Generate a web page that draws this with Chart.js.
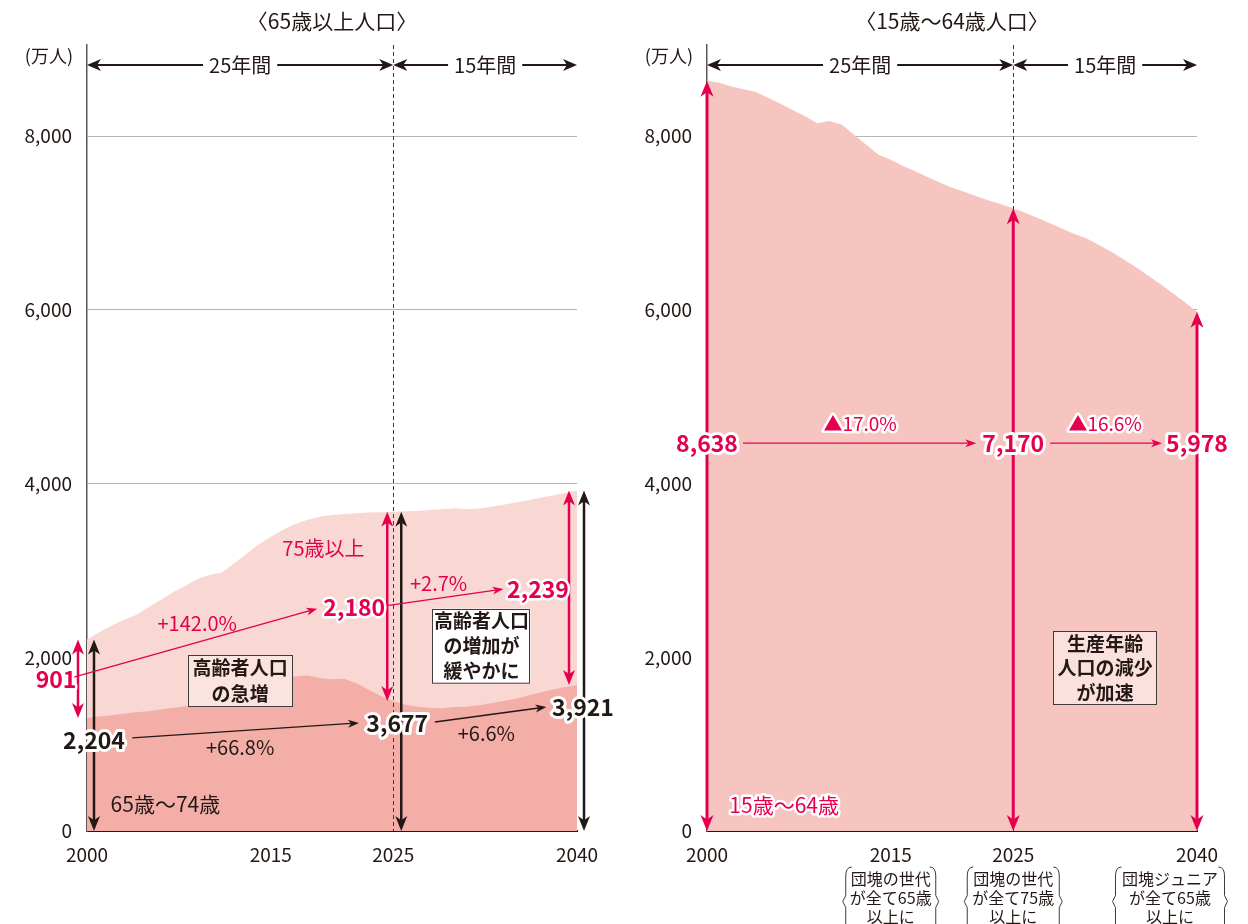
<!DOCTYPE html>
<html lang="ja">
<head>
<meta charset="utf-8">
<title>65歳以上人口と15歳〜64歳人口</title>
<script src="https://cdn.jsdelivr.net/npm/chart.js@4.4.1/dist/chart.umd.min.js"></script>
<style>
  body { margin: 0; background: #fff; }
  #wrap { position: relative; width: 1248px; height: 924px; }
  canvas { position: absolute; top: 0; }
  #left { left: 0; }
  #right { left: 620px; }
</style>
</head>
<body>
<div id="wrap">
  <canvas id="left" width="620" height="924"></canvas>
  <canvas id="right" width="628" height="924"></canvas>
</div>
<script>
// Fonts and colours
const FONT = "'Noto Sans CJK JP', 'Noto Sans', sans-serif";
const INK = "#231815";
const RED = "#e4004f";

// Years on the x axis (one point per year)
const years = [
  2000, 2001, 2002, 2003, 2004, 2005, 2006, 2007, 2008, 2009,
  2010, 2011, 2012, 2013, 2014, 2015, 2016, 2017, 2018, 2019,
  2020, 2021, 2022, 2023, 2024, 2025, 2026, 2027, 2028, 2029,
  2030, 2031, 2032, 2033, 2034, 2035, 2036, 2037, 2038, 2039, 2040
];

// 65歳以上 total (万人)
const age65plus = [
  2204, 2287, 2363, 2431, 2488, 2576, 2660, 2746, 2822, 2901,
  2948, 2975, 3079, 3190, 3300, 3387, 3470, 3535, 3585, 3617,
  3638, 3650, 3659, 3666, 3671, 3677, 3681, 3685, 3695, 3705,
  3716, 3706, 3712, 3733, 3757, 3782, 3808, 3836, 3864, 3893, 3921
];

// 65歳〜74歳 (万人)
const age65to74 = [
  1301, 1318, 1334, 1350, 1366, 1380, 1400, 1420, 1435, 1470,
  1517, 1504, 1560, 1630, 1708, 1755, 1768, 1780, 1790, 1762,
  1747, 1752, 1700, 1625, 1555, 1497, 1455, 1432, 1418, 1412,
  1428, 1432, 1448, 1472, 1497, 1522, 1560, 1595, 1628, 1656, 1682
];

// 15歳〜64歳 (万人)
const age15to64 = [
  8638, 8614, 8571, 8540, 8508, 8442, 8373, 8301, 8230, 8149,
  8174, 8134, 8018, 7901, 7785, 7728, 7656, 7596, 7530, 7466,
  7406, 7359, 7309, 7260, 7215, 7170, 7117, 7057, 6997, 6934,
  6875, 6821, 6746, 6669, 6583, 6494, 6397, 6297, 6194, 6088, 5978
];

// Ticks
const xTickYears = [2000, 2015, 2025, 2040];
const yTickValues = [0, 2000, 4000, 6000, 8000];
const yMax = 9050;

// Labelled values at the key years
const keyYears = [2000, 2025, 2040];
const total65Text = ["2,204", "3,677", "3,921"];
const over75Text = ["901", "2,180", "2,239"];
const workingText = ["8,638", "7,170", "5,978"];
const growth65Text = ["+66.8%", "+6.6%"];
const growth75Text = ["+142.0%", "+2.7%"];
const declineText = ["▲17.0%", "▲16.6%"];

// ---------- drawing helpers ----------
function head(ctx, x, y, ang, len, half, color) {
  ctx.save();
  ctx.translate(x, y);
  ctx.rotate(ang);
  ctx.beginPath();
  ctx.moveTo(0, 0);
  ctx.lineTo(-len, -half);
  ctx.lineTo(-len * 0.72, 0);
  ctx.lineTo(-len, half);
  ctx.closePath();
  ctx.fillStyle = color;
  ctx.fill();
  ctx.restore();
}

function arrow(ctx, x1, y1, x2, y2, o) {
  const ang = Math.atan2(y2 - y1, x2 - x1);
  const cut = o.len * 0.7;
  const c = Math.cos(ang), s = Math.sin(ang);
  ctx.save();
  ctx.strokeStyle = o.color;
  ctx.lineWidth = o.width;
  ctx.beginPath();
  ctx.moveTo(x1 + (o.both ? c * cut : 0), y1 + (o.both ? s * cut : 0));
  ctx.lineTo(x2 - c * cut, y2 - s * cut);
  ctx.stroke();
  ctx.restore();
  head(ctx, x2, y2, ang, o.len, o.half, o.color);
  if (o.both) head(ctx, x1, y1, ang + Math.PI, o.len, o.half, o.color);
}

function label(ctx, str, x, y, font, color, halo, align) {
  ctx.save();
  ctx.font = font;
  ctx.textAlign = align || "center";
  ctx.textBaseline = "middle";
  if (halo) {
    ctx.lineJoin = "round";
    ctx.strokeStyle = "#fff";
    ctx.lineWidth = halo;
    ctx.strokeText(str, x, y);
  }
  ctx.fillStyle = color;
  ctx.fillText(str, x, y);
  ctx.restore();
}

function box(ctx, lines, cx, top, bottom, w, fill) {
  const h = bottom - top;
  ctx.save();
  ctx.fillStyle = fill;
  ctx.fillRect(cx - w / 2, top, w, h);
  ctx.strokeStyle = "#3e3a39";
  ctx.lineWidth = 1;
  ctx.strokeRect(Math.round(cx - w / 2) + 0.5, Math.round(top) + 0.5, w - 1, h - 1);
  ctx.restore();
  const step = h / lines.length;
  lines.forEach((s, i) => label(ctx, s, cx, top + step * (i + 0.5), "bold 19px " + FONT, INK));
}

function brace(ctx, x, top, bottom, dir) {
  const mid = (top + bottom) / 2;
  ctx.save();
  ctx.strokeStyle = "#3e3a39";
  ctx.lineWidth = 1;
  ctx.beginPath();
  ctx.moveTo(x + 6 * dir, top);
  ctx.quadraticCurveTo(x, top, x, top + 9);
  ctx.lineTo(x, mid - 6);
  ctx.lineTo(x - 3 * dir, mid);
  ctx.lineTo(x, mid + 6);
  ctx.lineTo(x, bottom - 9);
  ctx.quadraticCurveTo(x, bottom, x + 6 * dir, bottom);
  ctx.stroke();
  ctx.restore();
}

// Title, unit and the "25年間 / 15年間" span arrows shared by both charts
function frame(chart, title) {
  const ctx = chart.ctx, area = chart.chartArea;
  const X = yr => chart.scales.x.getPixelForValue(yr);
  label(ctx, title, (area.left + area.right) / 2, 21, "21px " + FONT, INK);
  label(ctx, "(万人)", X(2000) - 14, 56, "18px " + FONT, INK, 0, "right");

  // dashed divider at 2025
  ctx.save();
  ctx.strokeStyle = "#3e3a39";
  ctx.lineWidth = 1;
  ctx.setLineDash([4, 3]);
  ctx.beginPath();
  ctx.moveTo(Math.round(X(2025)) + 0.5, area.top);
  ctx.lineTo(Math.round(X(2025)) + 0.5, area.bottom);
  ctx.stroke();
  ctx.restore();

  const y = area.top + 20;
  const spans = [[2000, 2025, "25年間"], [2025, 2040, "15年間"]];
  spans.forEach(([a, b, txt]) => {
    const x1 = X(a), x2 = X(b), mid = (x1 + x2) / 2;
    ctx.font = "20px " + FONT;
    const w = ctx.measureText(txt).width / 2 + 6;
    const o = { color: INK, width: 2, len: 14, half: 6 };
    arrow(ctx, mid - w, y, x1, y, o);
    arrow(ctx, mid + w, y, x2, y, o);
    label(ctx, txt, mid, y, "20px " + FONT, INK);
  });
}

// ---------- annotations for the left chart ----------
const leftNotes = {
  id: "leftNotes",
  afterDraw(chart) {
    const ctx = chart.ctx;
    const X = yr => chart.scales.x.getPixelForValue(yr);
    const Y = v => chart.scales.y.getPixelForValue(v);
    frame(chart, "〈65歳以上人口〉");

    const thick = { width: 2.5, len: 15, half: 6, both: true };
    const blackDx = [7, 8, 7];
    const redDx = [-9, -6, -8];
    keyYears.forEach((yr, k) => {
      const i = years.indexOf(yr);
      arrow(ctx, X(yr) + blackDx[k], Y(0), X(yr) + blackDx[k], Y(age65plus[i]), { ...thick, color: INK });
      arrow(ctx, X(yr) + redDx[k], Y(age65to74[i]), X(yr) + redDx[k], Y(age65plus[i]), { ...thick, color: RED });
    });

    // 75歳以上 trend
    const thinRed = { color: RED, width: 1.3, len: 11, half: 4 };
    arrow(ctx, X(2000) - 14, Y(1770), X(2018.8), Y(2560), thinRed);
    arrow(ctx, X(2024.2), Y(2590), X(2034), Y(2785), thinRed);
    label(ctx, over75Text[0], X(2000) - 31, Y(1745), "bold 23px " + FONT, RED, 5);
    label(ctx, over75Text[1], X(2025) - 39, Y(2575), "bold 23px " + FONT, RED, 5);
    label(ctx, over75Text[2], X(2040) - 39, Y(2780), "bold 23px " + FONT, RED, 5);
    label(ctx, growth75Text[0], X(2009), Y(2390), "20px " + FONT, RED);
    label(ctx, growth75Text[1], X(2028.7), Y(2850), "20px " + FONT, RED);
    label(ctx, "75歳以上", X(2019.3), Y(3250), "20px " + FONT, RED);

    // 65歳以上 total trend
    const thinBlack = { color: INK, width: 1.3, len: 11, half: 4 };
    arrow(ctx, X(2003.7), Y(1073), X(2022.2), Y(1244), thinBlack);
    arrow(ctx, X(2028.4), Y(1255), X(2037.5), Y(1428), thinBlack);
    label(ctx, total65Text[0], X(2000) + 7, Y(1046), "bold 23px " + FONT, INK, 6);
    label(ctx, total65Text[1], X(2025) + 4, Y(1240), "bold 23px " + FONT, INK, 6);
    label(ctx, total65Text[2], X(2040) + 6, Y(1425), "bold 23px " + FONT, INK, 6);
    label(ctx, growth65Text[0], X(2012.5), Y(965), "20px " + FONT, INK);
    label(ctx, growth65Text[1], X(2032.6), Y(1127), "20px " + FONT, INK);
    label(ctx, "65歳〜74歳", X(2006.4), Y(310), "21px " + FONT, INK);

    box(ctx, ["高齢者人口", "の急増"], X(2012.5), Y(2026), Y(1427), 105, "#fbe3e0");
    box(ctx, ["高齢者人口", "の増加が", "緩やかに"], X(2032.2), Y(2560), Y(1700), 98, "#ffffff");
  }
};

// ---------- annotations for the right chart ----------
const rightNotes = {
  id: "rightNotes",
  afterDraw(chart) {
    const ctx = chart.ctx;
    const X = yr => chart.scales.x.getPixelForValue(yr);
    const Y = v => chart.scales.y.getPixelForValue(v);
    frame(chart, "〈15歳〜64歳人口〉");

    keyYears.forEach(yr => {
      const i = years.indexOf(yr);
      arrow(ctx, X(yr), Y(0), X(yr), Y(age15to64[i]), { color: RED, width: 3, len: 16, half: 6.5, both: true });
    });

    const thinRed = { color: RED, width: 1.3, len: 11, half: 4 };
    arrow(ctx, X(2000) + 36, Y(4465), X(2025) - 37, Y(4465), thinRed);
    arrow(ctx, X(2025) + 37, Y(4465), X(2040) - 35, Y(4465), thinRed);
    keyYears.forEach((yr, k) => label(ctx, workingText[k], X(yr), Y(4465), "bold 23px " + FONT, RED, 6));
    label(ctx, declineText[0], X(2012.5), Y(4690), "19px " + FONT, RED, 5);
    label(ctx, declineText[1], X(2032.5), Y(4690), "19px " + FONT, RED, 5);
    label(ctx, "15歳〜64歳", X(2006.3), Y(300), "21px " + FONT, RED, 5);

    box(ctx, ["生産年齢", "人口の減少", "が加速"], X(2032.5), Y(2302), Y(1450), 104, "#fbe1de");

    // notes under the x axis
    const notes = [
      [X(2015), 96, ["団塊の世代", "が全て65歳", "以上に"]],
      [X(2025), 98, ["団塊の世代", "が全て75歳", "以上に"]],
      [X(2040) - 27, 115, ["団塊ジュニア", "が全て65歳", "以上に"]]
    ];
    notes.forEach(([cx, w, lines]) => {
      lines.forEach((s, i) => label(ctx, s, cx, 879 + i * 19, "16px " + FONT, INK));
      brace(ctx, cx - w / 2 + 3, 867, 936, 1);
      brace(ctx, cx + w / 2 - 3, 867, 936, -1);
    });
  }
};

// ---------- chart factory ----------
const pts = arr => years.map((yr, i) => ({ x: yr, y: arr[i] }));

function makeChart(canvas, datasets, notes) {
  return new Chart(canvas, {
    type: "line",
    data: { datasets },
    options: {
      responsive: false,
      animation: false,
      devicePixelRatio: 1,
      layout: { padding: { left: 17, right: canvas.width - 577, top: 45, bottom: 53 } },
      plugins: { legend: { display: false }, tooltip: { enabled: false } },
      elements: { point: { radius: 0 }, line: { borderWidth: 0, tension: 0 } },
      scales: {
        x: {
          type: "linear", min: 2000, max: 2040, z: 1,
          afterBuildTicks: s => { s.ticks = xTickYears.map(v => ({ value: v })); },
          afterFit: s => { s.height = 40; },
          grid: { display: false, drawTicks: false },
          border: { display: true, color: INK, width: 2 },
          ticks: {
            autoSkip: false, maxRotation: 0, padding: 12, color: INK,
            font: { family: FONT, size: 19 }, callback: v => String(v)
          }
        },
        y: {
          min: 0, max: yMax, z: 1,
          afterBuildTicks: s => { s.ticks = yTickValues.map(v => ({ value: v })); },
          afterFit: s => { s.width = 70; },
          grid: { color: "#b5b5b6", lineWidth: 1, drawTicks: false },
          border: { display: true, color: "#595757", width: 1.5 },
          ticks: {
            padding: 15, color: INK,
            font: { family: FONT, size: 19 },
            callback: v => v.toLocaleString("en-US")
          }
        }
      }
    },
    plugins: [notes]
  });
}

makeChart(document.getElementById("left"), [
  { data: pts(age65to74), fill: "origin", backgroundColor: "#f3aea8", borderColor: "rgba(0,0,0,0)" },
  { data: pts(age65plus), fill: "origin", backgroundColor: "#f9d8d3", borderColor: "rgba(0,0,0,0)" }
], leftNotes);

makeChart(document.getElementById("right"), [
  { data: pts(age15to64), fill: "origin", backgroundColor: "#f6c5c0", borderColor: "rgba(0,0,0,0)" }
], rightNotes);
</script>
</body>
</html>
